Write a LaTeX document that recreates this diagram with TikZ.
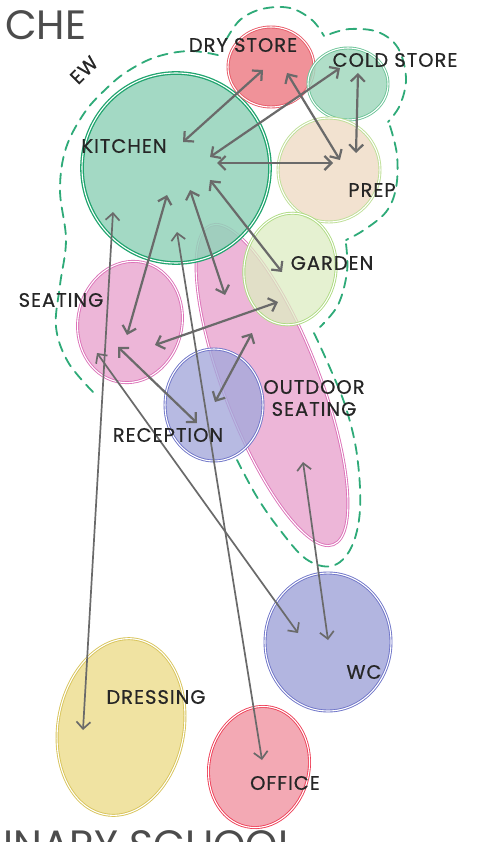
\documentclass[tikz,border=0pt]{standalone}
\usepackage{fontspec}
\setmainfont{Poppins}
\usepackage{xcolor}
\definecolor{arrowgray}{HTML}{6A6A6A}
\definecolor{zonegreen}{HTML}{2EAA78}
\definecolor{kitchenfill}{HTML}{93D3BA}
\definecolor{kitchenedge}{HTML}{1FA46E}
\definecolor{dryfill}{HTML}{EE7F88}
\definecolor{dryedge}{HTML}{E85A68}
\definecolor{coldfill}{HTML}{A3D9BF}
\definecolor{coldedge}{HTML}{6CC498}
\definecolor{prepfill}{HTML}{F0DDC8}
\definecolor{prepedge}{HTML}{BEDF96}
\definecolor{gardenfill}{HTML}{DDEDC2}
\definecolor{gardenedge}{HTML}{AEDB82}
\definecolor{seatfill}{HTML}{EAAAD2}
\definecolor{seatedge}{HTML}{DC72B8}
\definecolor{bluefill}{HTML}{A5A9DB}
\definecolor{blueedge}{HTML}{6E74C8}
\definecolor{dressfill}{HTML}{EEDF92}
\definecolor{dressedge}{HTML}{D8C45A}
\definecolor{officefill}{HTML}{F29AA8}
\definecolor{officeedge}{HTML}{EE4058}
\usepackage{tikz}
\usetikzlibrary{calc,arrows.meta,shapes.geometric}

\begin{document}
\begin{tikzpicture}[x=1pt,y=-1pt,line cap=round,
  >={Straight Barb[length=7pt,width=14pt]},
  bubble/.style={ellipse,inner sep=0pt,line width=0.9pt,
                 double=white,double distance=1.1pt,fill opacity=0.85},
  link/.style={<->,draw=arrowgray,line width=2.2pt},
  longlink/.style={<->,draw=arrowgray,line width=1.7pt},
  zone/.style={draw=zonegreen,line width=1.8pt,dash pattern=on 10pt off 7pt},
  rlabel/.style={font=\fontsize{19.5}{22}\selectfont
                 \addfontfeature{LetterSpace=5,FakeBold=0.6},
                 text=black!85,inner sep=0pt},
  title/.style={font=\fontsize{41}{41}\selectfont,text=black!70,inner sep=0pt}]

  \useasboundingbox (0,0) rectangle (484,842);
  \fill[white] (0,0) rectangle (484,842);

  % partial titles
  \node[title,anchor=base west] (toptitle) at (5,40) {CHE};
  \node[title,anchor=base west] (bottomtitle) at (3,859) {INARY SCHOOL};

  % kitchen zone boundary
  \draw[zone] plot[smooth,tension=0.6] coordinates {(93,392) (68,362) (56,327)
    (60,285) (66,240) (60,190) (66,148) (85,112) (108,87) (128,71) (156,57)
    (190,51) (222,56)}
    plot[smooth,tension=0.6] coordinates {(226,40) (240,20) (262,9) (290,8)
    (312,20) (324,36)}
    plot[smooth,tension=0.6] coordinates {(330,34) (350,29) (378,32) (398,48)
    (406,78) (400,105) (388,122)}
    plot[smooth,tension=0.6] coordinates {(390,126) (397,155) (396,188)
    (386,212) (364,230) (346,240)}
    plot[smooth,tension=0.6] coordinates {(346,244) (347,272) (338,305)
    (320,327)}
    plot[smooth,tension=0.6] coordinates {(314,333) (330,368) (346,408)
    (357,455) (360,510) (351,548) (332,566) (306,559) (280,530) (257,497)
    (237,460)};

  % spaces
  \node[bubble,fill=seatfill,draw=seatedge,minimum width=96,minimum height=342,
        rotate=21] (outdoor) at (272,385) {};
  \node[bubble,fill=kitchenfill,draw=kitchenedge,line width=1.3pt,
        minimum width=188,minimum height=190] (kitchen) at (176,168) {};
  \node[bubble,fill=dryfill,draw=dryedge,minimum width=86,minimum height=80]
        (dry) at (271,67) {};
  \node[bubble,fill=coldfill,draw=coldedge,minimum width=80,minimum height=72]
        (cold) at (348,84) {};
  \node[bubble,fill=prepfill,draw=prepedge,minimum width=102,minimum height=104]
        (prep) at (329,170) {};
  \node[bubble,fill=gardenfill,draw=gardenedge,fill opacity=0.75,
        minimum width=92,minimum height=112,rotate=-8] (garden) at (290,269) {};
  \node[bubble,fill=seatfill,draw=seatedge,minimum width=104,minimum height=122,
        rotate=-12] (seating) at (130,322) {};
  \node[bubble,fill=bluefill,draw=blueedge,fill opacity=0.8,
        minimum width=98,minimum height=112] (reception) at (214,405) {};
  \node[bubble,fill=bluefill,draw=blueedge,minimum width=126,minimum height=138]
        (wc) at (328,642) {};
  \node[bubble,fill=dressfill,draw=dressedge,minimum width=126,minimum height=178,
        rotate=-10] (dressing) at (121,727) {};
  \node[bubble,fill=officefill,draw=officeedge,minimum width=100,
        minimum height=122,rotate=-12] (office) at (259,767) {};

  % connections
  \draw[link] ($(kitchen)+(7,-26)$) -- ($(dry)+(-8,3)$);
  \draw[link] ($(kitchen)+(34,-11)$) -- ($(cold)+(-8,-16)$);
  \draw[link] ($(kitchen)+(41,-5)$) -- ($(prep)+(4,-7)$);
  \draw[link] ($(dry)+(16,6)$) -- ($(prep)+(11,-10)$);
  \draw[link] ($(cold)+(10,-11)$) -- ($(prep)+(27,-17)$);
  \draw[link] ($(kitchen)+(34,12)$) -- ($(garden)+(-8,3)$);
  \draw[link] ($(kitchen)+(-9,27)$) -- ($(seating)+(-3,13)$);
  \draw[link] ($(kitchen)+(14,22)$) -- ($(outdoor)+(-47,-90)$);
  \draw[link] ($(seating)+(-12,25)$) -- ($(reception)+(-17,18)$);
  \draw[link] ($(seating)+(25,23)$) -- ($(garden)+(-12,33)$);
  \draw[link] ($(reception)+(1,-3)$) -- ($(outdoor)+(-20,-52)$);
  \draw[longlink] ($(kitchen)+(-63,44)$) -- ($(dressing)+(-38,3)$);
  \draw[longlink] ($(kitchen)+(1,64)$) -- ($(office)+(3,-7)$);
  \draw[longlink] ($(seating)+(-33,31)$) -- ($(wc)+(-30,-9)$);
  \draw[longlink] ($(outdoor)+(31,77)$) -- ($(wc)+(0,-2)$);

  % labels
  \node[rlabel] (lkitchen) at (124,146) {KITCHEN};
  \node[rlabel] (ldry) at (243,45) {DRY STORE};
  \node[rlabel] (lcold) at (395,60) {COLD STORE};
  \node[rlabel] (lprep) at (372,190) {PREP};
  \node[rlabel] (lgarden) at (332,263) {GARDEN};
  \node[rlabel] (lseating) at (61,300) {SEATING};
  \node[rlabel,align=center] (loutdoor) at (314,398) {OUTDOOR\\SEATING};
  \node[rlabel] (lreception) at (168,435) {RECEPTION};
  \node[rlabel] (lwc) at (364,672) {WC};
  \node[rlabel] (ldressing) at (156,697) {DRESSING};
  \node[rlabel] (loffice) at (285,783) {OFFICE};
  \node[rlabel,rotate=45] (lew) at (84,70) {EW};
\end{tikzpicture}
\end{document}
